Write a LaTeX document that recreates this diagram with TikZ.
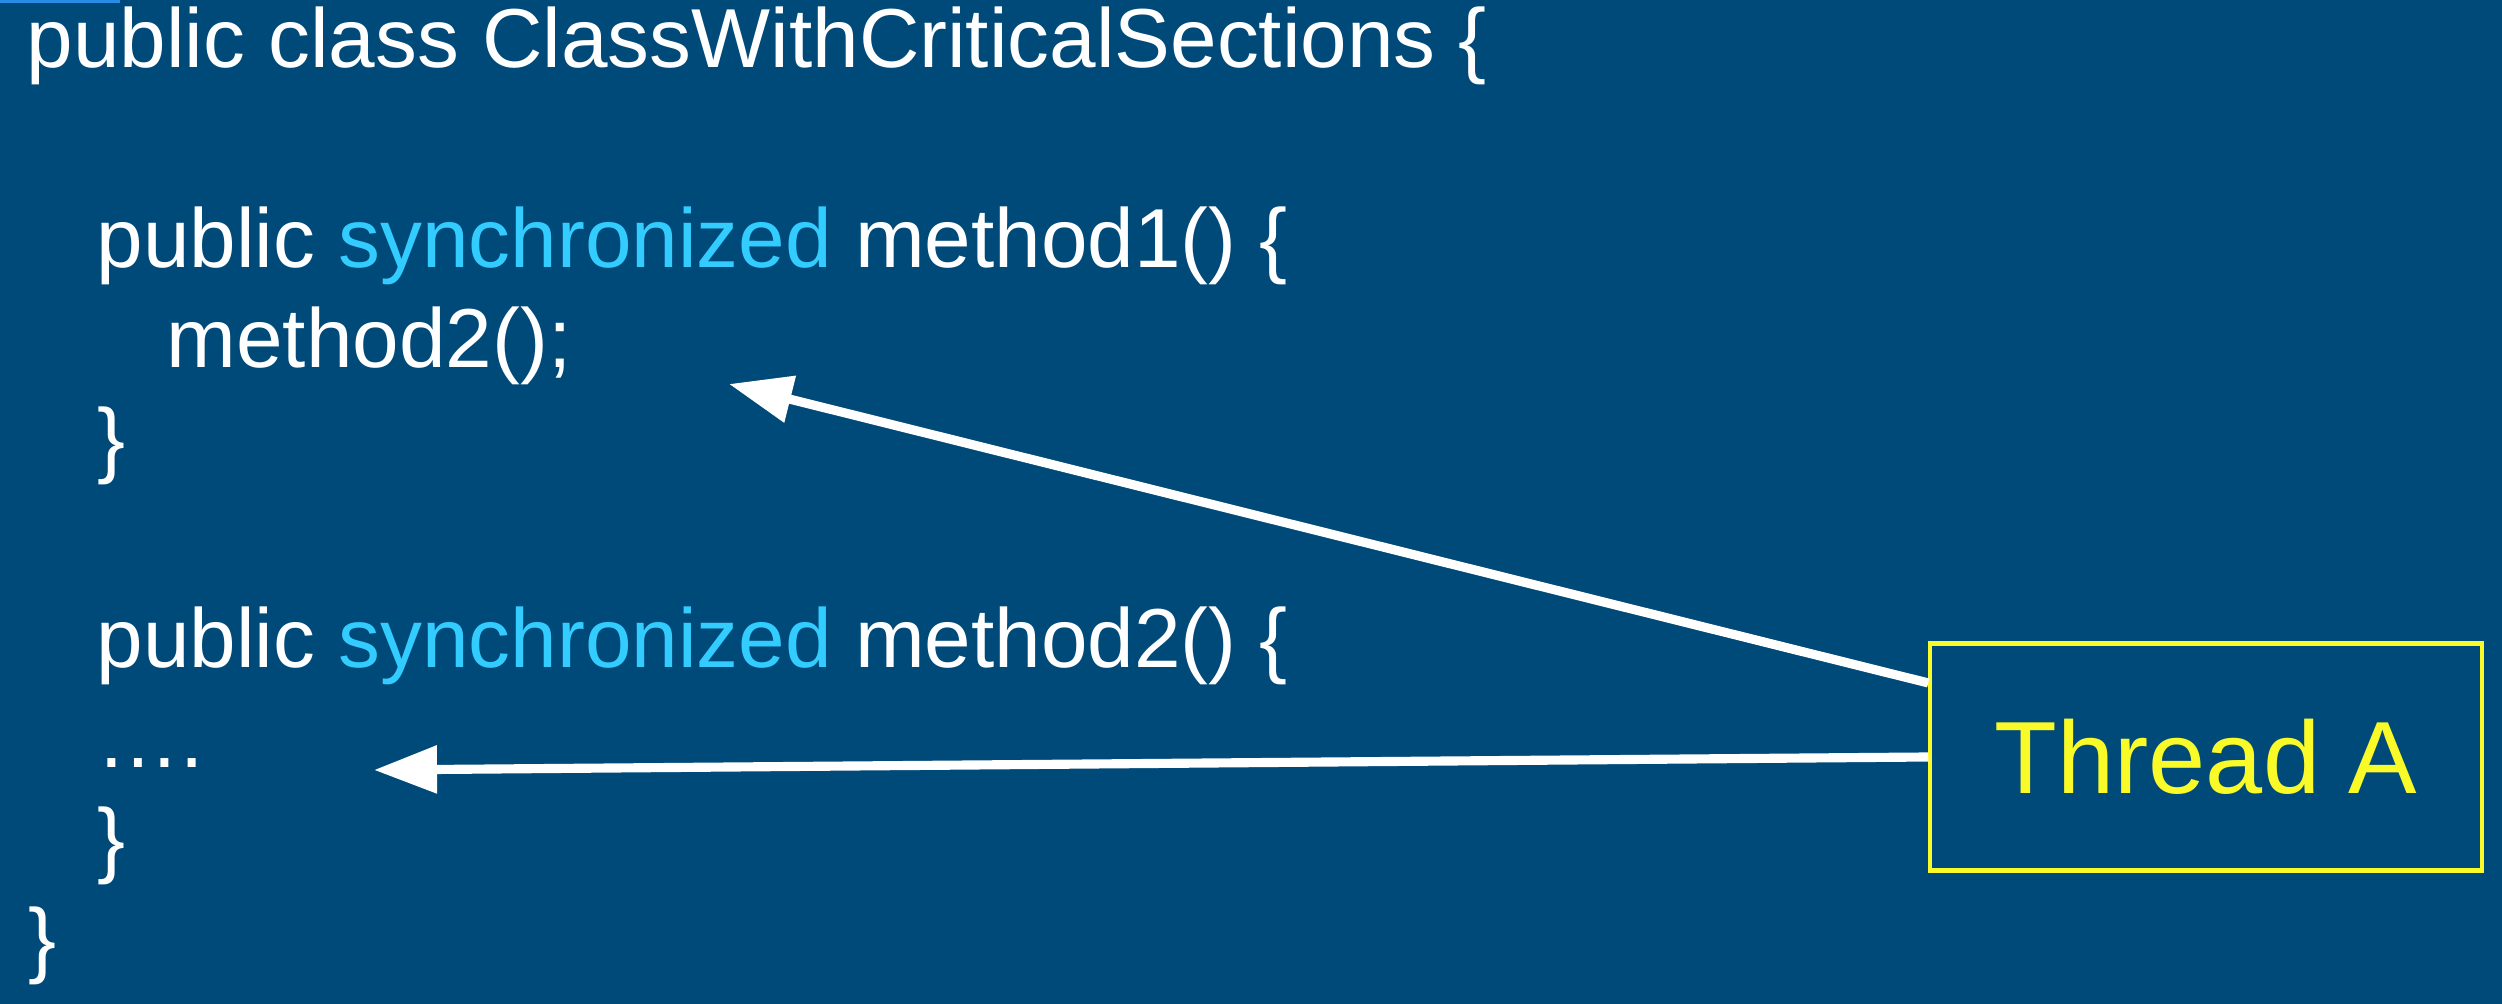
\documentclass[tikz,border=0pt]{standalone}
\usepackage{fontspec}
\setmainfont{Liberation Sans}
\usetikzlibrary{arrows.meta}
\definecolor{bg}{RGB}{0,74,122}
\definecolor{kw}{RGB}{51,204,255}
\definecolor{yl}{RGB}{250,250,40}
\definecolor{strip}{RGB}{40,140,230}
\tikzset{
  code/.style={anchor=base west, inner sep=0pt, text=white, font=\fontsize{23.8pt}{28pt}\selectfont},
  threadbox/.style={draw=yl, line width=1.2pt, text=yl, minimum width=5.51cm, minimum height=2.27cm, inner sep=0pt, font=\fontsize{29.2pt}{34pt}\selectfont},
  callarrow/.style={draw=white, line width=2.6pt, -{Triangle[length=0.63cm, width=0.46cm]}}
}
\begin{document}
\begin{tikzpicture}[x=0.01cm, y=-0.01cm]
  \fill[bg] (0,0) rectangle (2502,1004);
  \useasboundingbox (0,0) rectangle (2502,1004);
  \fill[strip] (0,0) rectangle (120,3);
  \node[code] (l1) at (26,68) {public class ClassWithCriticalSections \{};
  \node[code] (l3) at (96,268) {public \textcolor{kw}{synchronized} method1() \{};
  \node[code] (l4) at (166,368) {method2();};
  \node[code] (l5) at (97,468) {\}};
  \node[code] (l7) at (96,668) {public \textcolor{kw}{synchronized} method2() \{};
  \node[code] (l8) at (96,768) {….};
  \node[code] (l9) at (97,868) {\}};
  \node[code] (l10) at (28,968) {\}};
  \node[threadbox] (thr) at (2206,757) {Thread A};
  \coordinate (t1) at (729,384);
  \coordinate (t2) at (374,770);
  \draw[callarrow] ([yshift=0.74cm]thr.west) -- (t1);
  \draw[callarrow] (thr.west) -- (t2);
\end{tikzpicture}
\end{document}
